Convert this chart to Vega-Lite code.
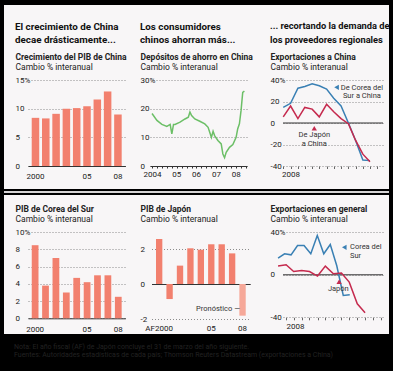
{
  "$schema": "https://vega.github.io/schema/vega-lite/v6.json",
  "background": "#000000",
  "padding": {"left": 4, "top": 5, "right": 4, "bottom": 5},
  "spacing": 0,
  "resolve": {"scale": {"color": "independent"}},
  "config": {
    "font": "Roboto",
    "view": {"fill": "#f8f6f7", "stroke": null},
    "concat": {"spacing": 0},
    "axis": {
      "minExtent": 0, "maxExtent": 300,
      "labelFontSize": 8, "labelColor": "#222", "titleColor": "#222",
      "domainColor": "#333", "tickColor": "#666",
      "gridColor": "#8c8c8c", "gridDash": [1, 2], "gridOpacity": 1,
      "labelFlush": false, "labelOverlap": false, "ticks": false
    },
    "axisY": {"domain": false, "grid": true, "labelAlign": "left", "labelPadding": 0, "labelBaseline": "middle", "titleAngle": 0, "titleAlign": "left", "titleBaseline": "alphabetic", "titleFontSize": 8.5, "titleFontWeight": "normal", "titleX": 0},
    "axisX": {"grid": false, "domain": true, "titleAngle": 0, "titleAlign": "left", "titleBaseline": "alphabetic", "titleFontSize": 8.5, "titleFontWeight": "bold", "labelAngle": 0, "labelBaseline": "top", "labelAlign": "center"},
    "title": {"color": "#111", "anchor": "start", "frame": "group", "fontWeight": "bold", "fontSize": 9.8, "lineHeight": 13.4, "offset": -40},
    "text": {"fontSize": 7.5, "color": "#333"}
  },
  "datasets": {
    "china_pib": [
      {"anio": "2000", "valor": 8.4}, {"anio": "2001", "valor": 8.3}, {"anio": "2002", "valor": 9.1},
      {"anio": "2003", "valor": 10.0}, {"anio": "2004", "valor": 10.1}, {"anio": "2005", "valor": 10.4},
      {"anio": "2006", "valor": 11.6}, {"anio": "2007", "valor": 13.0}, {"anio": "2008", "valor": 9.0}
    ],
    "ahorro": [
      {"fecha": "2004-01-01", "valor": 18.3}, {"fecha": "2004-04-01", "valor": 15.9},
      {"fecha": "2004-07-01", "valor": 14.5}, {"fecha": "2004-10-01", "valor": 13.8},
      {"fecha": "2004-12-01", "valor": 14.5}, {"fecha": "2005-01-01", "valor": 11.2},
      {"fecha": "2005-02-01", "valor": 14.5}, {"fecha": "2005-03-01", "valor": 14.5},
      {"fecha": "2005-06-01", "valor": 15.3}, {"fecha": "2005-09-01", "valor": 16.4},
      {"fecha": "2005-11-01", "valor": 17.0}, {"fecha": "2005-12-01", "valor": 18.8},
      {"fecha": "2006-01-01", "valor": 17.6}, {"fecha": "2006-03-01", "valor": 16.4},
      {"fecha": "2006-06-01", "valor": 15.6}, {"fecha": "2006-09-01", "valor": 14.7},
      {"fecha": "2006-11-01", "valor": 13.5}, {"fecha": "2007-01-01", "valor": 10.0},
      {"fecha": "2007-02-01", "valor": 12.1}, {"fecha": "2007-03-01", "valor": 10.6},
      {"fecha": "2007-05-01", "valor": 8.9}, {"fecha": "2007-07-01", "valor": 7.7},
      {"fecha": "2007-08-01", "valor": 4.2}, {"fecha": "2007-09-01", "valor": 2.9},
      {"fecha": "2007-10-01", "valor": 4.8}, {"fecha": "2007-12-01", "valor": 6.5},
      {"fecha": "2008-02-01", "valor": 7.5}, {"fecha": "2008-04-01", "valor": 10.0},
      {"fecha": "2008-05-01", "valor": 13.0}, {"fecha": "2008-06-01", "valor": 14.7},
      {"fecha": "2008-07-01", "valor": 19.3}, {"fecha": "2008-08-01", "valor": 25.7},
      {"fecha": "2008-09-01", "valor": 26.1}
    ],
    "export_china": [
      {"fecha": "2007-12-01", "serie": "Corea del Sur", "valor": 14.5},
      {"fecha": "2008-01-01", "serie": "Corea del Sur", "valor": 18.3},
      {"fecha": "2008-02-01", "serie": "Corea del Sur", "valor": 32.4},
      {"fecha": "2008-03-01", "serie": "Corea del Sur", "valor": 34.0},
      {"fecha": "2008-04-01", "serie": "Corea del Sur", "valor": 36.5},
      {"fecha": "2008-05-01", "serie": "Corea del Sur", "valor": 34.6},
      {"fecha": "2008-06-01", "serie": "Corea del Sur", "valor": 31.5},
      {"fecha": "2008-07-01", "serie": "Corea del Sur", "valor": 23.0},
      {"fecha": "2008-08-01", "serie": "Corea del Sur", "valor": 15.8},
      {"fecha": "2008-09-01", "serie": "Corea del Sur", "valor": 0.0},
      {"fecha": "2008-10-01", "serie": "Corea del Sur", "valor": -16.0},
      {"fecha": "2008-11-01", "serie": "Corea del Sur", "valor": -34.5},
      {"fecha": "2008-12-01", "serie": "Corea del Sur", "valor": -35.0},
      {"fecha": "2007-12-01", "serie": "Japón", "valor": 5.7},
      {"fecha": "2008-01-01", "serie": "Japón", "valor": 15.8},
      {"fecha": "2008-02-01", "serie": "Japón", "valor": 4.1},
      {"fecha": "2008-03-01", "serie": "Japón", "valor": 14.5},
      {"fecha": "2008-04-01", "serie": "Japón", "valor": 12.9},
      {"fecha": "2008-05-01", "serie": "Japón", "valor": 5.7},
      {"fecha": "2008-06-01", "serie": "Japón", "valor": 17.4},
      {"fecha": "2008-07-01", "serie": "Japón", "valor": 10.4},
      {"fecha": "2008-08-01", "serie": "Japón", "valor": 4.1},
      {"fecha": "2008-09-01", "serie": "Japón", "valor": -0.6},
      {"fecha": "2008-10-01", "serie": "Japón", "valor": -16.0},
      {"fecha": "2008-11-01", "serie": "Japón", "valor": -29.0},
      {"fecha": "2008-12-01", "serie": "Japón", "valor": -36.0}
    ],
    "corea_pib": [
      {"anio": "2000", "valor": 8.5}, {"anio": "2001", "valor": 3.8}, {"anio": "2002", "valor": 7.0},
      {"anio": "2003", "valor": 3.0}, {"anio": "2004", "valor": 4.7}, {"anio": "2005", "valor": 4.2},
      {"anio": "2006", "valor": 5.0}, {"anio": "2007", "valor": 5.0}, {"anio": "2008", "valor": 2.5}
    ],
    "japon_pib": [
      {"anio": "2000", "valor": 2.57, "tipo": "real"}, {"anio": "2001", "valor": -0.86, "tipo": "real"},
      {"anio": "2002", "valor": 1.05, "tipo": "real"}, {"anio": "2003", "valor": 2.04, "tipo": "real"},
      {"anio": "2004", "valor": 1.96, "tipo": "real"}, {"anio": "2005", "valor": 2.27, "tipo": "real"},
      {"anio": "2006", "valor": 2.27, "tipo": "real"}, {"anio": "2007", "valor": 1.75, "tipo": "real"},
      {"anio": "2008", "valor": -1.81, "tipo": "pronóstico"}
    ],
    "export_general": [
      {"fecha": "2008-01-01", "serie": "Corea del Sur", "valor": 15.7},
      {"fecha": "2008-01-26", "serie": "Corea del Sur", "valor": 19.8},
      {"fecha": "2008-02-20", "serie": "Corea del Sur", "valor": 18.8},
      {"fecha": "2008-03-16", "serie": "Corea del Sur", "valor": 27.6},
      {"fecha": "2008-04-10", "serie": "Corea del Sur", "valor": 27.6},
      {"fecha": "2008-05-06", "serie": "Corea del Sur", "valor": 19.8},
      {"fecha": "2008-05-31", "serie": "Corea del Sur", "valor": 37.0},
      {"fecha": "2008-06-25", "serie": "Corea del Sur", "valor": 19.8},
      {"fecha": "2008-07-20", "serie": "Corea del Sur", "valor": 28.5},
      {"fecha": "2008-08-14", "serie": "Corea del Sur", "valor": 8.5},
      {"fecha": "2008-09-08", "serie": "Corea del Sur", "valor": -19.5},
      {"fecha": "2008-10-03", "serie": "Corea del Sur", "valor": -18.8},
      {"fecha": "2008-01-01", "serie": "Japón", "valor": 8.2},
      {"fecha": "2008-02-01", "serie": "Japón", "valor": 9.4},
      {"fecha": "2008-03-01", "serie": "Japón", "valor": 3.1},
      {"fecha": "2008-04-01", "serie": "Japón", "valor": 4.1},
      {"fecha": "2008-05-01", "serie": "Japón", "valor": 3.1},
      {"fecha": "2008-06-01", "serie": "Japón", "valor": -1.2},
      {"fecha": "2008-07-01", "serie": "Japón", "valor": 8.2},
      {"fecha": "2008-08-01", "serie": "Japón", "valor": 0.9},
      {"fecha": "2008-09-01", "serie": "Japón", "valor": 1.6},
      {"fecha": "2008-10-01", "serie": "Japón", "valor": -6.9},
      {"fecha": "2008-11-01", "serie": "Japón", "valor": -27.3},
      {"fecha": "2008-12-01", "serie": "Japón", "valor": -35.8}
    ]
  },
  "vconcat": [
    {
      "hconcat": [
        {
          "width": 126, "height": 184,
          "data": {"name": "china_pib"},
          "title": {"text": ["El crecimiento de China", "decae drásticamente..."], "dx": 11},
          "mark": {"type": "bar", "color": "#f2806e"},
          "encoding": {
            "x": {"field": "anio", "type": "ordinal",
              "scale": {"range": [24, 121.4], "paddingInner": 0.27, "paddingOuter": 0.36},
              "axis": {"title": "Crecimiento del PIB de China", "titleX": 11, "titleY": -107, "offset": -23, "labelPadding": 6,
                "labelExpr": "datum.value == '2000' ? '2000' : datum.value == '2005' ? '05' : datum.value == '2008' ? '08' : ''"}},
            "y": {"field": "valor", "type": "quantitative",
              "scale": {"domain": [0, 15], "range": [161, 75], "nice": false, "zero": false},
              "axis": {"title": "Cambio % interanual", "titleY": 64, "offset": -11, "values": [0, 5, 10, 15],
                "labelExpr": "datum.value == 15 ? '15%' : '' + datum.value"}}
          }
        },
        {
          "width": 127, "height": 184,
          "data": {"name": "ahorro"},
          "title": {"text": ["Los consumidores", "chinos ahorran más..."], "dx": 10},
          "mark": {"type": "line", "color": "#6cbf67", "strokeWidth": 1.5},
          "encoding": {
            "x": {"field": "fecha", "type": "temporal",
              "scale": {"domain": [{"year": 2003, "month": 11, "date": 25}, {"year": 2008, "month": 10, "date": 19}], "range": [20, 117]},
              "axis": {"title": "Depósitos de ahorro en China", "titleX": 10, "titleY": -107, "offset": -23,
                "ticks": true, "tickSize": 2, "tickColor": "#333", "tickCount": {"interval": "month", "step": 3}, "labelPadding": 2.5,
                "labelExpr": "month(datum.value) == 0 ? (year(datum.value) == 2004 ? '2004' : timeFormat(datum.value, '%y')) : ''",
                "labelAlign": {"condition": {"test": "year(datum.value) == 2004", "value": "center"}, "value": "left"}}},
            "y": {"field": "valor", "type": "quantitative",
              "scale": {"domain": [0, 30], "range": [161, 75], "nice": false, "zero": false},
              "axis": {"title": "Cambio % interanual", "titleY": 64, "offset": -10, "values": [0, 10, 20, 30],
                "labelExpr": "datum.value == 30 ? '30%' : '' + datum.value"}}
          }
        },
        {
          "width": 132, "height": 184,
          "title": {"text": ["... recortando la demanda de", "los proveedores regionales"], "dx": 13, "fontSize": 9.3},
          "layer": [
            {
              "data": {"values": [{}]},
              "mark": {"type": "rule", "color": "#333", "strokeWidth": 1},
              "encoding": {
                "x": {"datum": {"year": 2007, "month": 11, "date": 30}, "type": "temporal"},
                "x2": {"datum": {"year": 2009, "month": 1, "date": 25}},
                "y": {"datum": 0}
              }
            },
            {
              "data": {"name": "export_china"},
              "mark": {"type": "line", "strokeWidth": 1.5},
              "encoding": {
                "x": {"field": "fecha", "type": "temporal",
                  "scale": {"domain": [{"year": 2007, "month": 11, "date": 30}, {"year": 2009, "month": 1, "date": 25}], "range": [26, 126]},
                  "axis": {"title": "Exportaciones a China", "titleX": 13, "titleY": -107, "offset": -23, "domain": false,
                    "ticks": true, "tickSize": 2.5, "tickCount": {"interval": "month", "step": 1}, "labelPadding": 2.3,
                    "labelExpr": "month(datum.value) == 0 && year(datum.value) == 2008 ? '2008' : ''"}},
                "y": {"field": "valor", "type": "quantitative",
                  "scale": {"domain": [-40, 40], "range": [161, 75], "nice": false, "zero": false},
                  "axis": {"title": "Cambio % interanual", "titleY": 64, "offset": -13, "values": [-40, -20, 0, 20, 40],
                    "labelExpr": "datum.value == 40 ? '40%' : '' + datum.value"}},
                "color": {"field": "serie", "type": "nominal", "legend": null,
                  "scale": {"domain": ["Corea del Sur", "Japón"], "range": ["#3a80b4", "#c52a4e"]}}
              }
            },
            {
              "data": {"values": [{}]},
              "mark": {"type": "point", "shape": "triangle-left", "filled": true, "size": 28, "color": "#3a80b4", "opacity": 1},
              "encoding": {"x": {"datum": {"year": 2008, "month": 7, "date": 13}, "type": "temporal"}, "y": {"datum": 33.2}}
            },
            {
              "data": {"values": [{}]},
              "mark": {"type": "text", "align": "center", "baseline": "top", "lineHeight": 8.5},
              "encoding": {"x": {"datum": {"year": 2008, "month": 10, "date": 28}, "type": "temporal"}, "y": {"datum": 36.7},
                "text": {"value": ["De Corea del", "Sur a China"]}}
            },
            {
              "data": {"values": [{}]},
              "mark": {"type": "point", "shape": "triangle-up", "filled": true, "size": 28, "color": "#c52a4e", "opacity": 1},
              "encoding": {"x": {"datum": {"year": 2008, "month": 4, "date": 10}, "type": "temporal"}, "y": {"datum": -4.9}}
            },
            {
              "data": {"values": [{}]},
              "mark": {"type": "text", "align": "center", "baseline": "top", "lineHeight": 8.5},
              "encoding": {"x": {"datum": {"year": 2008, "month": 4, "date": 10}, "type": "temporal"}, "y": {"datum": -7.9},
                "text": {"value": ["De Japón", "a China"]}}
            }
          ]
        }
      ],
      "spacing": 0,
      "bounds": "flush",
      "resolve": {"scale": {"color": "independent"}}
    },
    {
      "width": 385, "height": 2,
      "data": {"values": [{"n": 0}]},
      "mark": {"type": "point", "opacity": 0},
      "encoding": {},
      "view": {"fill": "#d6d4d5", "stroke": null}
    },
    {
      "hconcat": [
        {
          "width": 126, "height": 139,
          "data": {"name": "corea_pib"},
          "mark": {"type": "bar", "color": "#f2806e"},
          "encoding": {
            "x": {"field": "anio", "type": "ordinal",
              "scale": {"range": [24, 121.4], "paddingInner": 0.35, "paddingOuter": 0.36},
              "axis": {"title": "PIB de Corea del Sur", "titleX": 11, "titleY": -106.8, "offset": -15.7, "labelPadding": 7,
                "labelExpr": "datum.value == '2000' ? '2000' : datum.value == '2005' ? '05' : datum.value == '2008' ? '08' : ''"}},
            "y": {"field": "valor", "type": "quantitative",
              "scale": {"domain": [0, 10], "range": [123.3, 37.3], "nice": false, "zero": false},
              "axis": {"title": "Cambio % interanual", "titleY": 26.5, "offset": -11, "values": [0, 2, 4, 6, 8, 10],
                "labelExpr": "datum.value == 10 ? '10%' : '' + datum.value"}}
          }
        },
        {
          "width": 127, "height": 139,
          "layer": [
            {
              "data": {"name": "japon_pib"},
              "mark": {"type": "bar"},
              "encoding": {
                "x": {"field": "anio", "type": "ordinal",
                  "scale": {"range": [21.5, 120.2], "paddingInner": 0.39, "paddingOuter": 0.43},
                  "axis": {"title": "PIB de Japón", "titleX": 10, "titleY": -72.5, "offset": -50, "labelPadding": 40.8,
                    "labelExpr": "datum.value == '2000' ? 'AF2000' : datum.value == '2005' ? '05' : datum.value == '2008' ? '08' : ''"}},
                "y": {"field": "valor", "type": "quantitative",
                  "scale": {"domain": [-2, 3], "range": [124, 36.5], "nice": false, "zero": false},
                  "axis": {"title": "Cambio % interanual", "titleY": 26.5, "offset": -10, "values": [-2, -1, 0, 1, 2, 3],
                    "labelExpr": "datum.value == 3 ? '3%' : '' + datum.value"}},
                "color": {"field": "tipo", "type": "nominal", "legend": null,
                  "scale": {"domain": ["real", "pronóstico"], "range": ["#f2806e", "#f6a899"]}}
              }
            },
            {
              "data": {"values": [{}]},
              "mark": {"type": "text", "align": "right", "baseline": "middle", "dx": -2.5},
              "encoding": {"x": {"datum": "2008", "type": "ordinal"}, "y": {"datum": -1.43}, "text": {"value": "Pronóstico —"}}
            }
          ]
        },
        {
          "width": 132, "height": 139,
          "layer": [
            {
              "data": {"values": [{}]},
              "mark": {"type": "rule", "color": "#333", "strokeWidth": 1},
              "encoding": {
                "x": {"datum": {"year": 2008, "month": 1, "date": 20}, "type": "temporal"},
                "x2": {"datum": {"year": 2009, "month": 2, "date": 8}},
                "y": {"datum": 0}
              }
            },
            {
              "data": {"name": "export_general"},
              "mark": {"type": "line", "strokeWidth": 1.5},
              "encoding": {
                "x": {"field": "fecha", "type": "temporal",
                  "scale": {"domain": [{"year": 2008, "month": 1, "date": 20}, {"year": 2009, "month": 2, "date": 8}], "range": [26, 126]},
                  "axis": {"title": "Exportaciones en general", "titleX": 13, "titleY": -105.8, "offset": -16.7, "domain": false,
                    "ticks": true, "tickSize": 2.5, "tickCount": {"interval": "month", "step": 1}, "labelPadding": 2.3,
                    "labelExpr": "month(datum.value) == 1 && year(datum.value) == 2008 ? '2008' : ''", "labelAlign": "left"}},
                "y": {"field": "valor", "type": "quantitative",
                  "scale": {"domain": [-40, 40], "range": [122.3, 37.3], "nice": false, "zero": false},
                  "axis": {"title": "Cambio % interanual", "titleY": 26.5, "offset": -13, "values": [-40, -20, 0, 20, 40],
                    "labelExpr": "datum.value == 40 ? '40%' : '' + datum.value"}},
                "color": {"field": "serie", "type": "nominal", "legend": null,
                  "scale": {"domain": ["Corea del Sur", "Japón"], "range": ["#3a80b4", "#c52a4e"]}}
              }
            },
            {
              "data": {"values": [{}]},
              "mark": {"type": "point", "shape": "triangle-left", "filled": true, "size": 28, "color": "#3a80b4", "opacity": 1},
              "encoding": {"x": {"datum": {"year": 2008, "month": 9, "date": 12}, "type": "temporal"}, "y": {"datum": 25.9}}
            },
            {
              "data": {"values": [{}]},
              "mark": {"type": "text", "align": "left", "baseline": "top", "lineHeight": 8.5},
              "encoding": {"x": {"datum": {"year": 2008, "month": 10, "date": 4}, "type": "temporal"}, "y": {"datum": 29.9},
                "text": {"value": ["Corea del", "Sur"]}}
            },
            {
              "data": {"values": [{}]},
              "mark": {"type": "point", "shape": "triangle-up", "filled": true, "size": 28, "color": "#c52a4e", "opacity": 1},
              "encoding": {"x": {"datum": {"year": 2008, "month": 8, "date": 23}, "type": "temporal"}, "y": {"datum": -6.5}}
            },
            {
              "data": {"values": [{}]},
              "mark": {"type": "text", "align": "center", "baseline": "top"},
              "encoding": {"x": {"datum": {"year": 2008, "month": 8, "date": 20}, "type": "temporal"}, "y": {"datum": -9.6},
                "text": {"value": "Japón"}}
            }
          ]
        }
      ],
      "spacing": 0,
      "bounds": "flush",
      "resolve": {"scale": {"color": "independent"}}
    },
    {
      "width": 385, "height": 36,
      "data": {"values": [{"n": 0}]},
      "mark": {"type": "point", "opacity": 0},
      "encoding": {},
      "title": {"text": ["Nota: El año fiscal (AF) de Japón concluye el 31 de marzo del año siguiente.", "Fuentes: Autoridades estadísticas de cada país; Thomson Reuters Datastream (exportaciones a China)"],
        "fontSize": 7, "fontWeight": "normal", "lineHeight": 8.5, "dx": 10, "offset": -24, "color": "#222"}
    }
  ]
}
